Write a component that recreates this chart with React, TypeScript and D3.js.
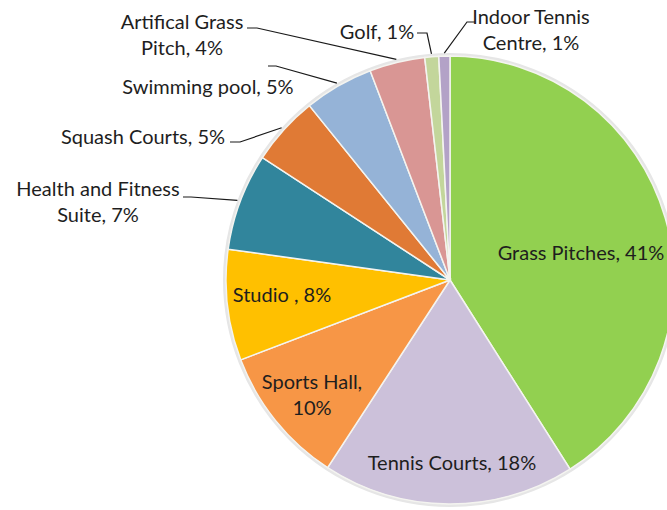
import React, { useEffect, useRef } from 'react';
import * as d3 from 'd3';

// Slices, clockwise from 12 o'clock
const categories = [
  'Grass Pitches',
  'Tennis Courts',
  'Sports Hall',
  'Studio',
  'Health and Fitness Suite',
  'Squash Courts',
  'Swimming pool',
  'Artifical Grass Pitch',
  'Golf',
  'Indoor Tennis Centre',
];
const values = [41, 18.2, 10, 8, 7, 5, 5, 4, 1, 0.8];
const labelLines = [
  ['Grass Pitches, 41%'],
  ['Tennis Courts, 18%'],
  ['Sports Hall,', '10%'],
  ['Studio , 8%'],
  ['Health and Fitness', 'Suite, 7%'],
  ['Squash Courts, 5%'],
  ['Swimming pool, 5%'],
  ['Artifical Grass', 'Pitch, 4%'],
  ['Golf, 1%'],
  ['Indoor Tennis', 'Centre, 1%'],
];
const colors = [
  '#92d050', '#ccc1da', '#f79646', '#ffc000', '#31859c',
  '#e07a35', '#95b3d7', '#d99694', '#c3d69b', '#b3a2c7',
];

// Label layout: text centre x, first line centre y, optional leader start
interface LabelLayout { x: number; y: number; leader?: [number, number, number] }
const labelLayout: LabelLayout[] = [
  { x: 581, y: 253 },
  { x: 452, y: 463 },
  { x: 312, y: 382 },
  { x: 282, y: 295 },
  { x: 98, y: 189, leader: [183, 197, 191] },
  { x: 143, y: 137, leader: [230, 142, 240] },
  { x: 208, y: 87, leader: [268, 66, 276] },
  { x: 182, y: 22, leader: [247, 28, 257] },
  { x: 377, y: 32, leader: [417, 33, 427] },
  { x: 531, y: 17, leader: [475, 22, 467] },
];

const W = 667;
const H = 510;
const CX = 450;
const CY = 280;
const R = 224;

const App: React.FC = () => {
  const svgRef = useRef<SVGSVGElement>(null);

  useEffect(() => {
    const svg = d3.select(svgRef.current);
    svg.selectAll('*').remove();

    const data = values.map((v, i) => ({ name: categories[i], value: v, i }));
    const pie = d3.pie<{ name: string; value: number; i: number }>()
      .sort(null)
      .value(d => d.value);
    const arcs = pie(data);

    const arc = d3.arc<d3.PieArcDatum<any>>().innerRadius(0).outerRadius(R);
    const edge = d3.arc<d3.PieArcDatum<any>>().innerRadius(R + 3).outerRadius(R + 3);

    const g = svg.append('g').attr('transform', `translate(${CX},${CY})`);

    // soft outline behind the pie
    g.append('circle')
      .attr('r', R + 1.5)
      .attr('fill', 'none')
      .attr('stroke', '#e6e6e6')
      .attr('stroke-width', 3);

    g.selectAll('path.slice')
      .data(arcs)
      .enter()
      .append('path')
      .attr('class', 'slice')
      .attr('d', arc as any)
      .attr('fill', d => colors[d.data.i])
      .attr('stroke', '#f4f4f0')
      .attr('stroke-width', 1.5);

    // Leader lines
    arcs.forEach(d => {
      const lay = labelLayout[d.data.i];
      if (!lay.leader) return;
      const [x0, y0, x1] = lay.leader;
      const [ex, ey] = edge.centroid(d as any);
      svg.append('path')
        .attr('d', d3.line()([[x0, y0], [x1, y0], [ex + CX, ey + CY]]))
        .attr('fill', 'none')
        .attr('stroke', '#1a1a1a')
        .attr('stroke-width', 1.2);
    });

    // Labels
    arcs.forEach(d => {
      const lay = labelLayout[d.data.i];
      const lines = labelLines[d.data.i];
      const t = svg.append('text')
        .attr('text-anchor', 'middle')
        .attr('font-family', 'Lato, "Noto Sans", sans-serif')
        .attr('font-size', 20)
        .attr('fill', '#1e1e1e');
      lines.forEach((ln, k) => {
        t.append('tspan')
          .attr('x', lay.x)
          .attr('y', lay.y + k * 26)
          .attr('dy', '0.35em')
          .text(ln);
      });
    });
  }, []);

  return (
    <svg
      ref={svgRef}
      width={W}
      height={H}
      style={{ position: 'absolute', left: 0, top: 0, background: '#fff' }}
    />
  );
};

export default App;
